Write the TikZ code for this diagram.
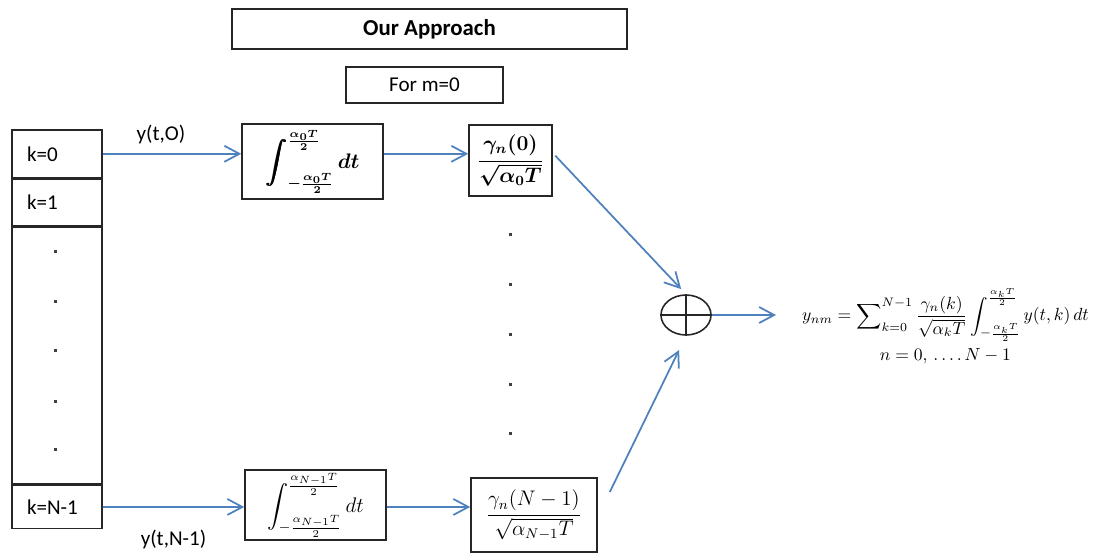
\documentclass[tikz,border=0pt]{standalone}
\usepackage{amsmath, amssymb, bm}
\usepackage{fontspec}
\setmainfont{Carlito}
\usepackage{xcolor}
\usetikzlibrary{shapes.geometric,arrows.meta,positioning,calc}
\definecolor{flowblue}{RGB}{79,129,189}

\begin{document}
\begin{tikzpicture}[
    x=0.02cm, y=-0.02cm,
    font=\fontsize{12}{14}\selectfont,
    box/.style={draw=black!85, line width=0.9pt, inner sep=0pt},
    row/.style={box, anchor=north, text width=1.2cm, align=left, inner xsep=0.3cm},
    dot/.style={rectangle, fill=black!75, inner sep=0pt, minimum size=0.06cm},
    flow/.style={draw=flowblue, line width=1pt, -{Straight Barb[length=0.3cm, width=0.32cm]}}
]
    \useasboundingbox (0,0) rectangle (1099,556);

    \node[box, minimum width=7.9cm, minimum height=0.8cm, font=\fontsize{13}{15}\selectfont\bfseries] (title) at (429.5,29) {Our Approach};
    \node[box, minimum width=3.14cm, minimum height=0.72cm] (cond) at (424.5,85) {For m=0};

    % column of inputs
    \node[row, minimum height=0.96cm] (k0) at (57,129) {k=0};
    \node[row, minimum height=0.92cm, below=0pt of k0] (k1) {k=1};
    \node[row, minimum height=5.14cm, below=0pt of k1] (kmid) {};
    \node[row, minimum height=0.86cm, below=0pt of kmid] (kN) {k=N-1};
    \foreach \y [count=\i] in {251,301,350,401,449}
        \node[dot] (cdot\i) at (55,\y) {};

    \node[box, minimum width=2.82cm, minimum height=1.5cm] (int0) at (312.5,161.5)
        {$\displaystyle\bm{\int_{-\frac{\alpha_0 T}{2}}^{\frac{\alpha_0 T}{2}} dt}$};
    \node[box, minimum width=1.66cm, minimum height=1.42cm] (gam0) at (510.5,160.5)
        {$\bm{\dfrac{\gamma_n(0)}{\sqrt{\alpha_0 T}}}$};

    \node[box, minimum width=2.82cm, minimum height=1.4cm] (intN) at (315.5,505)
        {$\displaystyle\int_{-\frac{\alpha_{N-1} T}{2}}^{\frac{\alpha_{N-1} T}{2}} dt$};
    \node[box, minimum width=2.52cm, minimum height=1.48cm] (gamN) at (534,515)
        {$\dfrac{\gamma_n(N-1)}{\sqrt{\alpha_{N-1} T}}$};

    \foreach \y [count=\i] in {234,284,334,384,433}
        \node[dot] (mdot\i) at (510,\y) {};

    \node[ellipse, draw=black!85, line width=0.9pt, minimum width=1cm, minimum height=0.8cm, inner sep=0pt] (sum) at (686,315) {};
    \draw[black!85, line width=0.9pt] (sum.north) -- (sum.south) (sum.west) -- (sum.east);

    \node[anchor=west, align=center, font=\fontsize{10}{12}\selectfont] (out) at (796,326)
        {$y_{nm}=\displaystyle\sum\nolimits_{k=0}^{N-1}\frac{\gamma_n(k)}{\sqrt{\alpha_k T}}\int_{-\frac{\alpha_k T}{2}}^{\frac{\alpha_k T}{2}} y(t,k)\,dt$\\[3pt]
         $n=0,\,\ldots.\,N-1$};

    \draw[flow] (k0.east) -- (k0.east -| int0.west) node[midway, above=2pt, pos=0.42] (lab0) {y(t,O)};
    \draw[flow] (int0.east |- k0) -- (gam0.west |- k0);
    \draw[flow] (kN.east) -- (kN.east -| intN.west) node[pos=0.5, yshift=-0.66cm] (labN) {y(t,N-1)};
    \draw[flow] (intN.east |- kN) -- (gamN.west |- kN);

    \draw[flow, shorten <=2pt, shorten >=4pt] ([yshift=0.15cm]gam0.east) -- (sum.north);
    \draw[flow, shorten >=9pt] ([xshift=0.24cm, yshift=0.46cm]gamN.east) -- (sum.south);
    \draw[flow, shorten >=0.4cm] (sum.east) -- (out.west |- sum);
\end{tikzpicture}
\end{document}
